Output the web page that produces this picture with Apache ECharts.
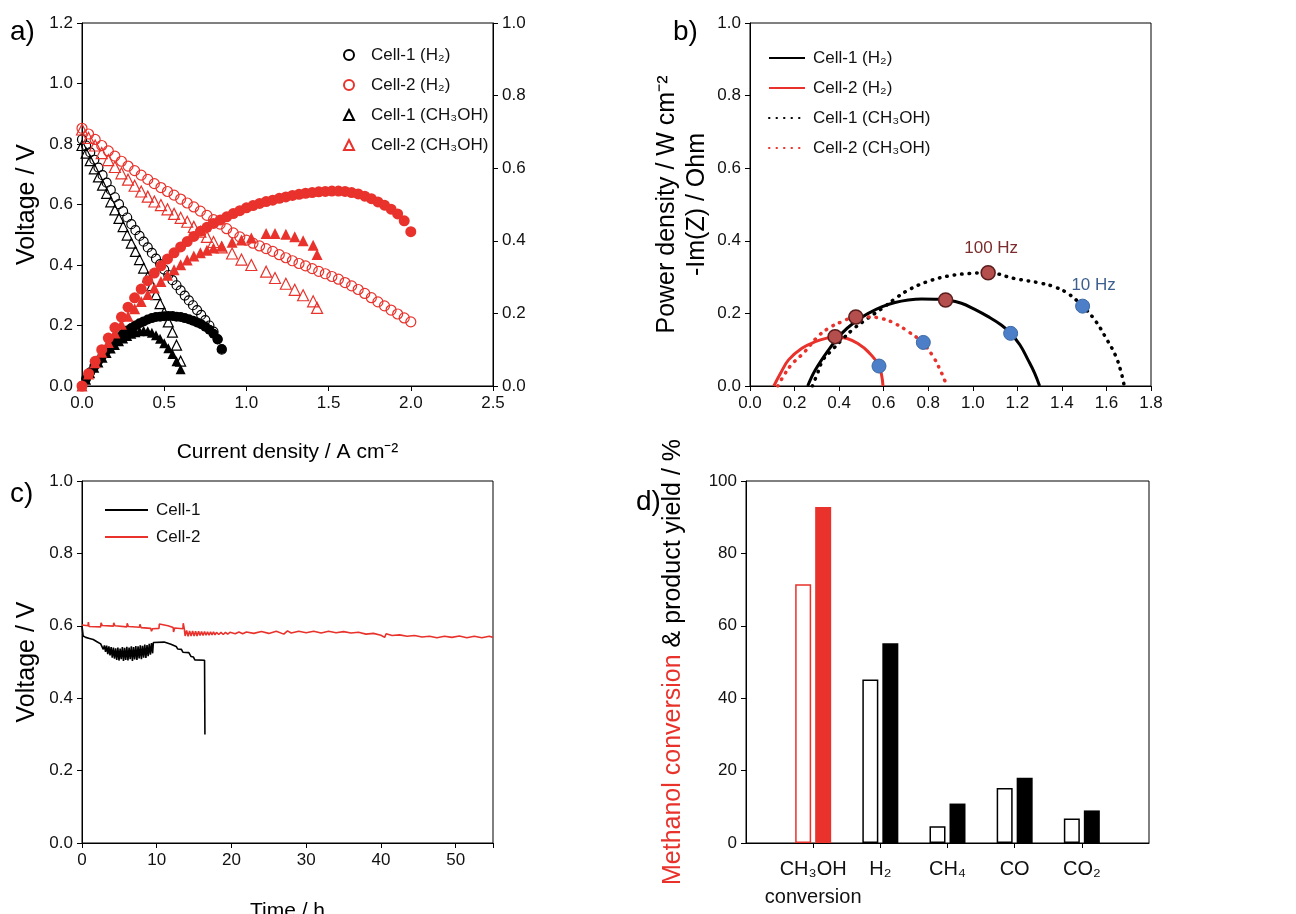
<!DOCTYPE html>
<html>
<head>
<meta charset="utf-8">
<script src="https://cdn.jsdelivr.net/npm/echarts@6/dist/echarts.min.js"></script>
<style>
html, body { margin: 0; padding: 0; background: #fff; }
#chart { width: 1296px; height: 914px; }
</style>
</head>
<body>
<div id="chart"></div>
<script>
// a) polarisation + power curves
var iCell1H2 = [0,0.025,0.05,0.075,0.1,0.125,0.15,0.175,0.2,0.225,0.25,0.275,0.3,0.325,0.35,0.375,0.4,0.425,0.45,0.475,0.5,0.525,0.55,0.575,0.6,0.625,0.65,0.675,0.7,0.725,0.75,0.775,0.8,0.825,0.85];
var vCell1H2 = [0.815,0.795,0.772,0.748,0.722,0.697,0.672,0.648,0.624,0.601,0.578,0.557,0.535,0.515,0.496,0.477,0.458,0.44,0.421,0.403,0.385,0.367,0.35,0.333,0.316,0.299,0.283,0.267,0.251,0.235,0.218,0.2,0.18,0.155,0.12];
var pCell1H2 = [0,0.02,0.038,0.054,0.07,0.085,0.099,0.112,0.124,0.134,0.144,0.153,0.16,0.167,0.173,0.178,0.183,0.187,0.19,0.191,0.192,0.193,0.193,0.191,0.19,0.187,0.184,0.18,0.175,0.17,0.163,0.155,0.144,0.128,0.102];

var iCell2H2 = [0,0.04,0.08,0.12,0.16,0.2,0.24,0.28,0.32,0.36,0.4,0.44,0.48,0.52,0.56,0.6,0.64,0.68,0.72,0.76,0.8,0.84,0.88,0.92,0.96,1.0,1.04,1.08,1.12,1.16,1.2,1.24,1.28,1.32,1.36,1.4,1.44,1.48,1.52,1.56,1.6,1.64,1.68,1.72,1.76,1.8,1.84,1.88,1.92,1.96,2.0];
var vCell2H2 = [0.852,0.833,0.815,0.795,0.777,0.76,0.743,0.727,0.712,0.697,0.683,0.669,0.656,0.643,0.631,0.618,0.605,0.592,0.578,0.564,0.55,0.535,0.52,0.506,0.493,0.482,0.472,0.463,0.454,0.445,0.434,0.424,0.414,0.405,0.397,0.388,0.379,0.371,0.362,0.353,0.342,0.331,0.319,0.306,0.292,0.278,0.265,0.251,0.238,0.225,0.212];
var pCell2H2 = [0,0.034,0.068,0.1,0.132,0.161,0.19,0.217,0.243,0.267,0.29,0.311,0.331,0.35,0.367,0.383,0.398,0.412,0.426,0.437,0.448,0.457,0.466,0.475,0.483,0.491,0.497,0.503,0.508,0.512,0.517,0.521,0.525,0.528,0.531,0.533,0.535,0.536,0.537,0.537,0.536,0.533,0.529,0.523,0.516,0.507,0.498,0.487,0.474,0.455,0.425];

var iCell1Me = [0,0.025,0.05,0.075,0.1,0.125,0.15,0.175,0.2,0.225,0.25,0.275,0.3,0.325,0.35,0.375,0.4,0.425,0.45,0.475,0.5,0.525,0.55,0.575,0.6];
var vCell1Me = [0.795,0.77,0.745,0.718,0.691,0.664,0.637,0.609,0.582,0.554,0.527,0.499,0.472,0.445,0.418,0.39,0.361,0.332,0.302,0.272,0.243,0.212,0.178,0.135,0.082];
var pCell1Me = [0,0.017,0.035,0.05,0.065,0.078,0.091,0.103,0.113,0.123,0.131,0.138,0.144,0.148,0.151,0.152,0.151,0.147,0.14,0.13,0.118,0.104,0.088,0.068,0.046];

var iCell2Me = [0,0.04,0.08,0.12,0.16,0.2,0.24,0.28,0.32,0.36,0.4,0.44,0.48,0.52,0.56,0.6,0.64,0.68,0.72,0.76,0.8,0.85,0.913,0.97,1.03,1.12,1.174,1.24,1.294,1.345,1.406,1.43];
var vCell2Me = [0.848,0.82,0.795,0.77,0.747,0.724,0.703,0.682,0.662,0.643,0.626,0.61,0.598,0.584,0.569,0.556,0.543,0.526,0.51,0.493,0.476,0.458,0.438,0.418,0.4,0.378,0.357,0.338,0.318,0.3,0.28,0.258];
var pCell2Me = [0,0.033,0.064,0.093,0.12,0.146,0.17,0.192,0.213,0.233,0.252,0.27,0.288,0.305,0.32,0.334,0.347,0.358,0.367,0.374,0.38,0.385,0.396,0.402,0.408,0.42,0.42,0.418,0.411,0.4,0.388,0.362];

// b) Nyquist plots [Re(Z), -Im(Z)]
var nyqCell1H2 = [[0.259,0],[0.293,0.044],[0.352,0.099],[0.412,0.145],[0.472,0.177],[0.531,0.2],[0.591,0.218],[0.651,0.23],[0.71,0.237],[0.77,0.24],[0.83,0.239],[0.878,0.237],[0.949,0.228],[1.009,0.211],[1.069,0.191],[1.128,0.168],[1.17,0.145],[1.212,0.113],[1.248,0.072],[1.278,0.035],[1.3,0]];
var nyqCell2H2 = [[0.107,0],[0.137,0.035],[0.173,0.072],[0.233,0.104],[0.293,0.122],[0.352,0.133],[0.382,0.136],[0.436,0.131],[0.484,0.117],[0.531,0.094],[0.579,0.055],[0.597,0]];
var nyqCell1Me = [[0.28,0],[0.3,0.03],[0.328,0.072],[0.37,0.1],[0.412,0.127],[0.46,0.155],[0.507,0.177],[0.56,0.2],[0.603,0.218],[0.65,0.24],[0.71,0.264],[0.794,0.287],[0.89,0.303],[0.985,0.31],[1.069,0.312],[1.188,0.296],[1.307,0.283],[1.367,0.273],[1.427,0.255],[1.493,0.22],[1.55,0.18],[1.6,0.13],[1.64,0.085],[1.665,0.04],[1.68,0]];
var nyqCell2Me = [[0.125,0],[0.149,0.026],[0.185,0.058],[0.245,0.094],[0.304,0.136],[0.352,0.159],[0.412,0.177],[0.475,0.19],[0.531,0.19],[0.591,0.186],[0.651,0.172],[0.71,0.15],[0.77,0.122],[0.818,0.085],[0.854,0.044],[0.884,0]];
var hz100 = [[1.069,0.312],[0.878,0.237],[0.475,0.19],[0.382,0.136]];
var hz10 = [[1.493,0.22],[1.17,0.145],[0.778,0.12],[0.579,0.055]];

// c) stability test [time h, voltage V]
var timeCell1 = [[0,0.6],[0.05,0.6],[0.15,0.572],[0.5,0.568],[1.0,0.565],[1.5,0.562],[2.0,0.556],[2.5,0.55],
  [2.7,0.548],[2.85,0.535],[3.0,0.546],[3.15,0.528],[3.3,0.545],[3.45,0.522],[3.6,0.543],[3.75,0.518],[3.9,0.541],[4.05,0.512],[4.2,0.54],[4.35,0.509],
  [4.5,0.538],[4.65,0.506],[4.8,0.54],[4.95,0.504],[5.1,0.537],[5.25,0.508],[5.4,0.541],[5.55,0.503],[5.7,0.539],[5.85,0.506],[6.0,0.542],[6.15,0.504],
  [6.3,0.54],[6.45,0.508],[6.6,0.543],[6.75,0.503],[6.9,0.541],[7.05,0.507],[7.2,0.544],[7.35,0.506],[7.5,0.543],[7.65,0.51],[7.8,0.546],[7.95,0.508],
  [8.1,0.545],[8.25,0.512],[8.4,0.548],[8.55,0.511],[8.7,0.547],[8.85,0.516],[9.0,0.55],[9.15,0.52],[9.3,0.552],[9.45,0.524],[9.55,0.554],
  [9.7,0.555],[11.0,0.555],[11.3,0.553],[11.5,0.55],[11.9,0.549],[12.1,0.544],[12.6,0.543],[12.8,0.536],[13.3,0.535],[13.5,0.527],[14.3,0.526],
  [14.6,0.515],[14.9,0.514],[15.1,0.506],[16.4,0.505],[16.45,0.3]];
var timeCell2 = [[0,0.602],[0.8,0.6],[0.85,0.61],[0.95,0.598],[2.5,0.597],[2.55,0.608],[2.7,0.601],[4.2,0.599],[4.25,0.608],[4.4,0.6],[6.0,0.597],[6.05,0.607],
  [6.2,0.598],[7.7,0.596],[7.75,0.604],[7.9,0.595],[9.2,0.593],[9.3,0.585],[9.45,0.592],[10.3,0.593],[10.35,0.605],[10.5,0.601],[11.5,0.6],[11.55,0.605],
  [11.7,0.596],[12.2,0.595],[12.25,0.583],[12.4,0.594],[13.5,0.592],[13.55,0.607],[13.7,0.59],[13.8,0.572],
  [14.0,0.587],[14.2,0.571],[14.4,0.586],[14.6,0.572],[14.8,0.586],[15.0,0.572],[15.2,0.585],[15.4,0.572],[15.6,0.585],[15.8,0.573],[16.0,0.584],
  [16.2,0.573],[16.4,0.584],[16.6,0.574],[16.8,0.583],[17.0,0.574],[17.2,0.583],[17.4,0.575],[17.6,0.583],[17.8,0.575],[18.0,0.582],[18.3,0.576],
  [18.6,0.582],[18.9,0.576],[19.2,0.582],[19.5,0.577],[19.8,0.582],[20.5,0.578],[21,0.583],[21.5,0.578],[22,0.583],[23,0.579],[24,0.584],[25,0.579],
  [26,0.585],[27,0.577],[27.5,0.586],[28,0.58],[29,0.585],[30,0.581],[31,0.585],[32,0.58],[33,0.585],[34,0.581],[35,0.584],[36,0.58],[37,0.582],
  [38,0.577],[39,0.579],[40,0.574],[40.5,0.568],[40.7,0.578],[41.5,0.573],[42.5,0.575],[43.5,0.571],[44.5,0.573],[45.5,0.569],[46.5,0.571],[47.5,0.567],
  [48.5,0.571],[49.5,0.568],[50.5,0.572],[51.5,0.567],[52.5,0.571],[53.5,0.567],[54.5,0.571],[55,0.568]];

// d) conversion and product yields (%)
var yieldCats = ['', 'CH₃OH\nconversion', 'H₂', 'CH₄', 'CO', 'CO₂', ''];
var cell1Yield = [71.5, 45.2, 4.6, 15.2, 6.8];
var cell2Yield = [92.8, 55.2, 10.9, 18.0, 9.0];

var font = "'Liberation Sans', Arial, Helvetica, sans-serif";
var red = '#e8322b';

function pairs(xs, ys) {
    return xs.map(function(x, i) { return [x, ys[i]]; });
}
function fixed(d) {
    return function(v) { return v.toFixed(d); };
}
function axis(o) {
    var a = {
        axisLine: { show: true, onZero: false, lineStyle: { color: '#000', width: 1 } },
        axisTick: { show: true, inside: false, length: 5, lineStyle: { color: '#000', width: 1 } },
        axisLabel: { color: '#111', fontSize: 17, fontFamily: font, margin: 9 },
        splitLine: { show: false },
        nameLocation: 'middle',
        nameTextStyle: { color: '#000', fontSize: 21, fontFamily: font }
    };
    for (var k in o) {
        if (k === 'axisLabel') {
            for (var j in o[k]) a.axisLabel[j] = o[k][j];
        } else {
            a[k] = o[k];
        }
    }
    return a;
}
var yName = { color: '#000', fontSize: 25, fontFamily: font };

var openBlack = { color: 'rgba(255,255,255,0)', borderColor: '#000', borderWidth: 1.2, opacity: 1 };
var openRed = { color: 'rgba(255,255,255,0)', borderColor: red, borderWidth: 1.2, opacity: 1 };
var dotted = [0.5, 7];

var frame = { show: true, borderColor: '#000', borderWidth: 1, backgroundColor: 'transparent',
    containLabel: false, outerBoundsMode: 'none' };

function barData(vals, firstStyle) {
    var out = ['-'];
    vals.forEach(function(v, i) {
        out.push(i === 0 ? { value: v, itemStyle: firstStyle } : v);
    });
    out.push('-');
    return out;
}

var option = {
    animation: false,
    textStyle: { fontFamily: font },
    grid: [
        Object.assign({ left: 82, top: 23, width: 411, height: 363 }, frame),
        Object.assign({ left: 750, top: 23, width: 401, height: 363 }, frame),
        Object.assign({ left: 82, top: 481, width: 411, height: 362 }, frame),
        Object.assign({ left: 746, top: 481, width: 403, height: 362 }, frame)
    ],
    xAxis: [
        axis({ gridIndex: 0, type: 'value', min: 0, max: 2.5, interval: 0.5,
            name: 'Current density / A cm⁻²', nameGap: 56, axisLabel: { formatter: fixed(1) } }),
        axis({ gridIndex: 1, type: 'value', min: 0, max: 1.8, interval: 0.2,
            axisLabel: { formatter: fixed(1) } }),
        axis({ gridIndex: 2, type: 'value', min: 0, max: 55, interval: 10,
            name: 'Time / h', nameGap: 58,
            axisLabel: { formatter: function(v) { return v % 10 === 0 ? String(v) : ''; } } }),
        axis({ gridIndex: 3, type: 'category', boundaryGap: false, data: yieldCats,
            axisTick: { show: true, length: 5, alignWithLabel: true, lineStyle: { color: '#000' },
                interval: function(i) { return i > 0 && i < 6; } },
            axisLabel: { fontSize: 20, lineHeight: 28, margin: 12, interval: 0 } })
    ],
    yAxis: [
        axis({ gridIndex: 0, type: 'value', min: 0, max: 1.2, interval: 0.2,
            name: 'Voltage / V', nameRotate: 90, nameGap: 42, nameTextStyle: yName, axisLabel: { formatter: fixed(1) } }),
        axis({ gridIndex: 0, type: 'value', position: 'right', min: 0, max: 1.0, interval: 0.2,
            name: 'Power density / W cm⁻²', nameRotate: 90, nameGap: 162, nameTextStyle: yName, axisLabel: { formatter: fixed(1) } }),
        axis({ gridIndex: 1, type: 'value', min: 0, max: 1.0, interval: 0.2,
            name: '-Im(Z) / Ohm', nameRotate: 90, nameGap: 40, nameTextStyle: yName, axisLabel: { formatter: fixed(1) } }),
        axis({ gridIndex: 2, type: 'value', min: 0, max: 1.0, interval: 0.2,
            name: 'Voltage / V', nameRotate: 90, nameGap: 42, nameTextStyle: yName, axisLabel: { formatter: fixed(1) } }),
        axis({ gridIndex: 3, type: 'value', min: 0, max: 100, interval: 20,
            name: '{r|Methanol conversion}{k| & product yield / %}', nameRotate: 90, nameGap: 60,
            nameTextStyle: { color: '#000', fontSize: 25, fontFamily: font,
                rich: { r: { color: red, fontSize: 25, fontFamily: font },
                        k: { color: '#000', fontSize: 25, fontFamily: font } } } })
    ],
    legend: [
        { left: 338, top: 40, orient: 'vertical', itemWidth: 10, itemHeight: 10, itemGap: 10,
          data: ['Cell-1 (H₂)', 'Cell-2 (H₂)', 'Cell-1 (CH₃OH)', 'Cell-2 (CH₃OH)'],
          textStyle: { fontSize: 17, fontFamily: font, color: '#111', lineHeight: 20, padding: [0, 0, 0, 12] } },
        { left: 763, top: 43, orient: 'vertical', itemWidth: 36, itemHeight: 14, itemGap: 10,
          itemStyle: { opacity: 0 },
          data: ['Cell-1 (H₂)\u200b', 'Cell-2 (H₂)\u200b', 'Cell-1 (CH₃OH)\u200b', 'Cell-2 (CH₃OH)\u200b'],
          textStyle: { fontSize: 17, fontFamily: font, color: '#111', lineHeight: 20, padding: [0, 0, 0, 3] } },
        { left: 99, top: 495, orient: 'vertical', itemWidth: 43, itemHeight: 14, itemGap: 7,
          itemStyle: { opacity: 0 },
          data: ['Cell-1', 'Cell-2'],
          textStyle: { fontSize: 17, fontFamily: font, color: '#111', lineHeight: 20, padding: [0, 0, 0, 3] } }
    ],
    series: [
        // panel a
        { type: 'scatter', name: 'Cell-1 (H₂)', xAxisIndex: 0, yAxisIndex: 0, symbol: 'circle', symbolSize: 9,
          itemStyle: openBlack, data: pairs(iCell1H2, vCell1H2) },
        { type: 'scatter', name: 'Cell-1 (H₂) power', xAxisIndex: 0, yAxisIndex: 1, symbol: 'circle', symbolSize: 10,
          itemStyle: { color: '#000', opacity: 1 }, data: pairs(iCell1H2, pCell1H2) },
        { type: 'scatter', name: 'Cell-1 (CH₃OH)', xAxisIndex: 0, yAxisIndex: 0, symbol: 'triangle', symbolSize: 10,
          itemStyle: openBlack, data: pairs(iCell1Me, vCell1Me) },
        { type: 'scatter', name: 'Cell-1 (CH₃OH) power', xAxisIndex: 0, yAxisIndex: 1, symbol: 'triangle', symbolSize: 10,
          itemStyle: { color: '#000', opacity: 1 }, data: pairs(iCell1Me, pCell1Me) },
        { type: 'scatter', name: 'Cell-2 (CH₃OH)', xAxisIndex: 0, yAxisIndex: 0, symbol: 'triangle', symbolSize: 11,
          itemStyle: openRed, data: pairs(iCell2Me, vCell2Me) },
        { type: 'scatter', name: 'Cell-2 (CH₃OH) power', xAxisIndex: 0, yAxisIndex: 1, symbol: 'triangle', symbolSize: 11,
          itemStyle: { color: red, opacity: 1 }, data: pairs(iCell2Me, pCell2Me) },
        { type: 'scatter', name: 'Cell-2 (H₂)', xAxisIndex: 0, yAxisIndex: 0, symbol: 'circle', symbolSize: 10,
          itemStyle: openRed, data: pairs(iCell2H2, vCell2H2) },
        { type: 'scatter', name: 'Cell-2 (H₂) power', xAxisIndex: 0, yAxisIndex: 1, symbol: 'circle', symbolSize: 11,
          itemStyle: { color: red, opacity: 1 }, data: pairs(iCell2H2, pCell2H2) },

        // panel b
        { type: 'line', name: 'Cell-1 (H₂)\u200b', xAxisIndex: 1, yAxisIndex: 2, smooth: 0.4, symbol: 'none',
          lineStyle: { color: '#000', width: 3 }, itemStyle: { color: '#000' }, data: nyqCell1H2 },
        { type: 'line', name: 'Cell-2 (H₂)\u200b', xAxisIndex: 1, yAxisIndex: 2, smooth: 0.4, symbol: 'none',
          lineStyle: { color: red, width: 3 }, itemStyle: { color: red }, data: nyqCell2H2 },
        { type: 'line', name: 'Cell-1 (CH₃OH)\u200b', xAxisIndex: 1, yAxisIndex: 2, smooth: 0.4, symbol: 'none',
          lineStyle: { color: '#000', width: 3.5, type: dotted, cap: 'round' }, itemStyle: { color: '#000' }, data: nyqCell1Me },
        { type: 'line', name: 'Cell-2 (CH₃OH)\u200b', xAxisIndex: 1, yAxisIndex: 2, smooth: 0.4, symbol: 'none',
          lineStyle: { color: red, width: 3.5, type: dotted, cap: 'round' }, itemStyle: { color: red }, data: nyqCell2Me },
        { type: 'scatter', name: '100 Hz', xAxisIndex: 1, yAxisIndex: 2, symbol: 'circle', symbolSize: 14, z: 5,
          itemStyle: { color: '#b44f4e', borderColor: '#5a1c1c', borderWidth: 1.5, opacity: 1 },
          data: hz100.map(function(p, i) {
              return i === 0 ? { value: p, label: { show: true, formatter: '100 Hz', position: 'top', distance: 8,
                  offset: [3, 0], color: '#7b2c2c', fontSize: 17, fontFamily: font } } : p;
          }) },
        { type: 'scatter', name: '10 Hz', xAxisIndex: 1, yAxisIndex: 2, symbol: 'circle', symbolSize: 14, z: 5,
          itemStyle: { color: '#4c7fc7', borderColor: '#3b67a6', borderWidth: 1, opacity: 1 },
          data: hz10.map(function(p, i) {
              return i === 0 ? { value: p, label: { show: true, formatter: '10 Hz', position: 'top', distance: 5,
                  offset: [11, 0], color: '#3d5f8f', fontSize: 17, fontFamily: font } } : p;
          }) },

        // panel c
        { type: 'line', name: 'Cell-1', xAxisIndex: 2, yAxisIndex: 3, symbol: 'none',
          lineStyle: { color: '#000', width: 1.6 }, itemStyle: { color: '#000' }, data: timeCell1 },
        { type: 'line', name: 'Cell-2', xAxisIndex: 2, yAxisIndex: 3, symbol: 'none',
          lineStyle: { color: red, width: 1.6 }, itemStyle: { color: red }, data: timeCell2 },

        // panel d
        { type: 'bar', name: 'Cell-1 yield', xAxisIndex: 3, yAxisIndex: 4, barWidth: 16, barGap: '25%',
          itemStyle: { color: '#fff', borderColor: '#000', borderWidth: 1.5 },
          data: barData(cell1Yield, { color: '#fff', borderColor: red, borderWidth: 1.5 }) },
        { type: 'bar', name: 'Cell-2 yield', xAxisIndex: 3, yAxisIndex: 4, barWidth: 16, barGap: '25%',
          itemStyle: { color: '#000' },
          data: barData(cell2Yield, { color: red }) }
    ],
    graphic: [
        { type: 'text', left: 10, top: 18, style: { text: 'a)', font: '28px ' + font, fill: '#000' } },
        { type: 'text', left: 673, top: 18, style: { text: 'b)', font: '28px ' + font, fill: '#000' } },
        { type: 'text', left: 10, top: 480, style: { text: 'c)', font: '28px ' + font, fill: '#000' } },
        { type: 'text', left: 636, top: 488, style: { text: 'd)', font: '28px ' + font, fill: '#000' } }
    ]
};

var chart = echarts.init(document.getElementById('chart'));
chart.setOption(option);
</script>
</body>
</html>
